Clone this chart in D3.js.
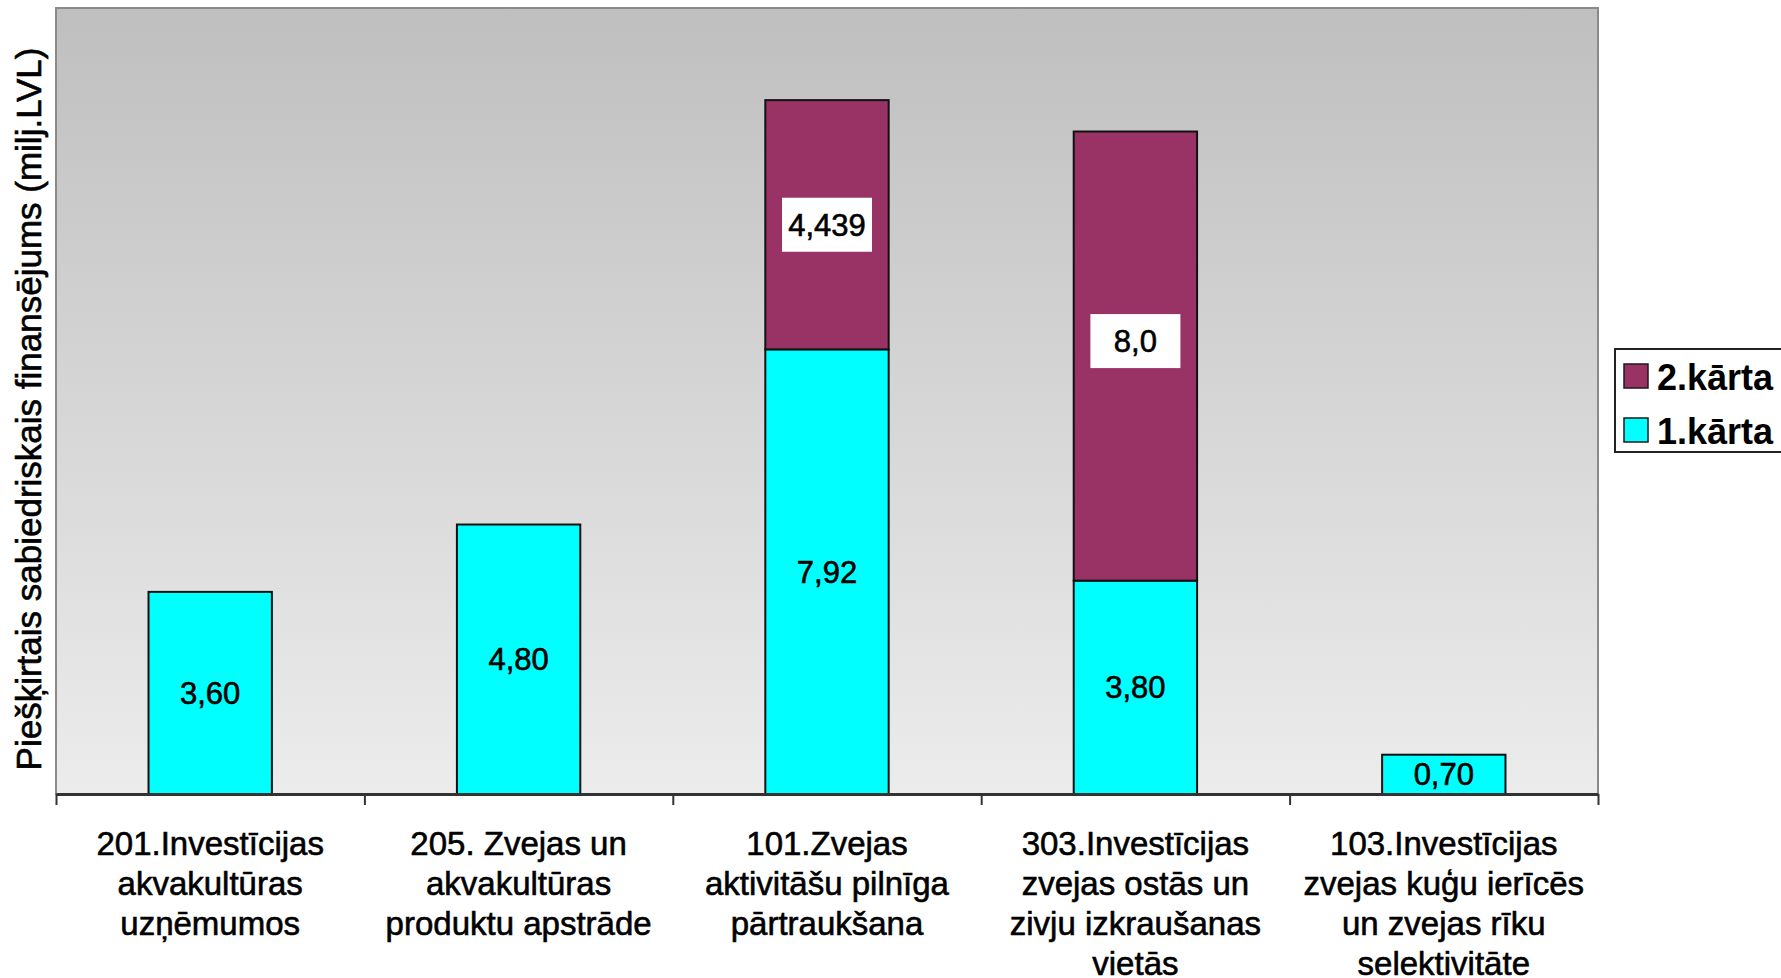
<!DOCTYPE html>
<html>
<head>
<meta charset="utf-8">
<script src="https://cdn.jsdelivr.net/npm/d3@7"></script>
<style>
  body { margin: 0; background: #fff; overflow: hidden; }
  svg { display: block; font-family: "Liberation Sans", Arial, sans-serif; }
  .heavy { stroke: #000; stroke-width: 0.6px; }
</style>
</head>
<body>
<div id="chart"></div>
<script>
// data
var categories = [
    ["201.Investīcijas", "akvakultūras", "uzņēmumos"],
    ["205. Zvejas un", "akvakultūras", "produktu apstrāde"],
    ["101.Zvejas", "aktivitāšu pilnīga", "pārtraukšana"],
    ["303.Investīcijas", "zvejas ostās un", "zivju izkraušanas", "vietās"],
    ["103.Investīcijas", "zvejas kuģu ierīcēs", "un zvejas rīku", "selektivitāte"]
]
var karta1 = [3.60, 4.80, 7.92, 3.80, 0.70]
var karta2 = [0, 0, 4.439, 8.0, 0]
var labels1 = ["3,60", "4,80", "7,92", "3,80", "0,70"]
var labels2 = ["", "", "4,439", "8,0", ""]
var seriesNames = ["1.kārta", "2.kārta"]
var yMax = 14

var width = 1781, height = 978
var plot = { left: 56, right: 1598, top: 8, bottom: 794 }
// the 8,0 label sits a bit above its segment centre in the original
var label2Lift = { 3: 15 }

var svg = d3.select("#chart")
    .append("svg")
    .attr("width", width)
    .attr("height", height)

// background gradient
var grad = svg.append("defs").append("linearGradient")
    .attr("id", "bg")
    .attr("x1", 0).attr("y1", 0).attr("x2", 0).attr("y2", 1)
grad.append("stop").attr("offset", "0%").attr("stop-color", "#bfbfbf")
grad.append("stop").attr("offset", "100%").attr("stop-color", "#ececec")

svg.append("rect")
    .attr("x", plot.left)
    .attr("y", plot.top)
    .attr("width", plot.right - plot.left)
    .attr("height", plot.bottom - plot.top)
    .attr("fill", "url(#bg)")
    .attr("stroke", "#8a8a8a")
    .attr("stroke-width", 2)

var idx = d3.range(categories.length)

var x = d3.scaleBand()
    .domain(idx)
    .range([plot.left, plot.right])
    .padding(0)

var y = d3.scaleLinear()
    .domain([0, yMax])
    .range([plot.bottom, plot.top])

var barW = x.bandwidth() * 0.4
var color = { "1.kārta": "#00ffff", "2.kārta": "#993366" }

// stacked data
var rows = idx.map(function (i) { return { i: i, "1.kārta": karta1[i], "2.kārta": karta2[i] } })
var stack = d3.stack().keys(seriesNames)(rows)

svg.selectAll("g.series")
    .data(stack)
    .enter()
    .append("g")
    .attr("class", "series")
    .attr("fill", function (d) { return color[d.key] })
    .selectAll("rect")
    .data(function (d) { return d.filter(function (p) { return p[1] - p[0] > 0 }) })
    .enter()
    .append("rect")
    .attr("x", function (d) { return x(d.data.i) + (x.bandwidth() - barW) / 2 })
    .attr("y", function (d) { return y(d[1]) })
    .attr("width", barW)
    .attr("height", function (d) { return y(d[0]) - y(d[1]) })
    .attr("stroke", "#111")
    .attr("stroke-width", 2)

// x axis - ticks between categories
var xTicks = d3.scaleLinear().domain([0, categories.length]).range([plot.left, plot.right])
var axis = svg.append("g")
    .attr("transform", "translate(0," + plot.bottom + ")")
    .call(d3.axisBottom(xTicks).tickValues(d3.range(categories.length + 1)).tickFormat("").tickSize(11).tickSizeOuter(0))
axis.select(".domain").attr("stroke", "#333").attr("stroke-width", 3)
axis.selectAll(".tick line").attr("stroke", "#333").attr("stroke-width", 2)

// category labels
svg.selectAll("text.cat")
    .data(categories)
    .enter()
    .append("text")
    .attr("class", "cat heavy")
    .attr("text-anchor", "middle")
    .attr("font-size", 33)
    .attr("fill", "#000")
    .each(function (lines, i) {
        d3.select(this).selectAll("tspan")
            .data(lines)
            .enter()
            .append("tspan")
            .attr("x", x(i) + x.bandwidth() / 2)
            .attr("y", function (l, k) { return 855 + k * 40 })
            .text(function (l) { return l })
    })

// value labels for 1.kārta
svg.selectAll("text.v1")
    .data(idx)
    .enter()
    .append("text")
    .attr("class", "v1 heavy")
    .attr("text-anchor", "middle")
    .attr("font-size", 31)
    .attr("x", function (i) { return x(i) + x.bandwidth() / 2 })
    .attr("y", function (i) { return y(karta1[i] / 2) + 11 })
    .text(function (i) { return labels1[i] })

// value labels for 2.kārta with white boxes
var lab2 = svg.selectAll("g.v2")
    .data(idx.filter(function (i) { return karta2[i] > 0 }))
    .enter()
    .append("g")
    .attr("class", "v2")
    .attr("transform", function (i) {
        var cy = y(karta1[i] + karta2[i] / 2) - (label2Lift[i] || 0)
        return "translate(" + (x(i) + x.bandwidth() / 2) + "," + cy + ")"
    })
lab2.append("rect").attr("fill", "#fff")
lab2.append("text")
    .attr("class", "heavy")
    .attr("text-anchor", "middle")
    .attr("font-size", 31)
    .attr("y", 11)
    .text(function (i) { return labels2[i] })
lab2.each(function () {
    var g = d3.select(this)
    var bb = g.select("text").node().getBBox()
    var w = Math.max(bb.width + 12, 90)
    g.select("rect")
        .attr("x", -w / 2)
        .attr("y", -27)
        .attr("width", w)
        .attr("height", 54)
})

// y axis title
svg.append("text")
    .attr("class", "heavy")
    .attr("transform", "translate(41," + ((plot.top + plot.bottom) / 2 + 8) + ") rotate(-90)")
    .attr("text-anchor", "middle")
    .attr("font-size", 35)
    .text("Piešķirtais sabiedriskais finansējums (milj.LVL)")

// legend
var legend = svg.append("g")
legend.append("rect")
    .attr("x", 1615)
    .attr("y", 349)
    .attr("width", 200)
    .attr("height", 103)
    .attr("fill", "#fff")
    .attr("stroke", "#222")
    .attr("stroke-width", 2)

var legendItems = seriesNames.slice().reverse()
var li = legend.selectAll("g.item")
    .data(legendItems)
    .enter()
    .append("g")
    .attr("class", "item")
    .attr("transform", function (d, k) { return "translate(1624," + (364 + k * 54) + ")" })
li.append("rect")
    .attr("width", 24)
    .attr("height", 24)
    .attr("fill", function (d) { return color[d] })
    .attr("stroke", "#1a1a1a")
    .attr("stroke-width", 1.5)
li.append("text")
    .attr("x", 33)
    .attr("y", 26)
    .attr("font-size", 36)
    .attr("font-weight", "bold")
    .text(function (d) { return d })
</script>
</body>
</html>
